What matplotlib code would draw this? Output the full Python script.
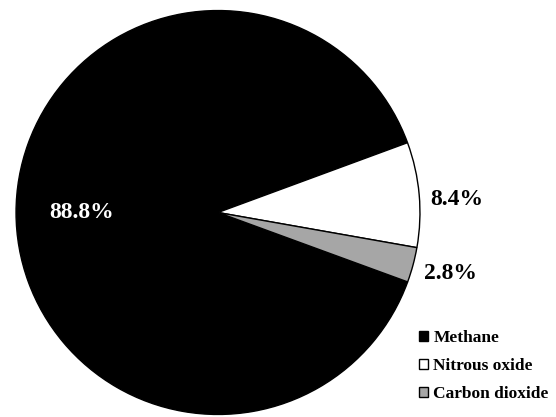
import matplotlib
matplotlib.use('Agg')
import matplotlib.pyplot as plt
from matplotlib.patches import Patch

labels = ['Methane', 'Nitrous oxide', 'Carbon dioxide']
shares = [88.8, 8.4, 2.8]
colors = ['#000000', '#ffffff', '#a6a6a6']

plt.rcParams['font.family'] = ['Liberation Serif', 'DejaVu Serif']

fig = plt.figure(figsize=(5.56, 4.17), dpi=100)
# pie centre ~ (218, 212) px, radius ~202 px
ax = fig.add_axes([12 / 556, -1.5 / 417, 412 / 556, 412 / 417])

ax.pie(shares, colors=colors, startangle=-20.1, counterclock=False,
       radius=1.0, wedgeprops={'edgecolor': 'black', 'linewidth': 1.0})
ax.set_xlim(-1.02, 1.02)
ax.set_ylim(-1.02, 1.02)
ax.set_aspect('equal')
ax.axis('off')

# percentage labels
ax.text(-0.673, 0.0, f'{shares[0]}%', color='white', fontsize=17,
        fontweight='bold', ha='center', va='center')
ax.text(1.183, 0.062, f'{shares[1]}%', color='black', fontsize=17,
        fontweight='bold', ha='center', va='center')
ax.text(1.149, -0.30, f'{shares[2]}%', color='black', fontsize=17,
        fontweight='bold', ha='center', va='center')

handles = [Patch(facecolor=c, edgecolor='black', linewidth=1.0, label=l)
           for c, l in zip(colors, labels)]
fig.legend(handles=handles, loc='lower left', bbox_to_anchor=(410 / 556, 6 / 417),
           frameon=False, prop={'weight': 'bold', 'size': 12.5},
           handlelength=0.55, handleheight=0.55, handletextpad=0.3,
           labelspacing=0.7, borderpad=0)

fig.savefig('out.png', dpi=100)
